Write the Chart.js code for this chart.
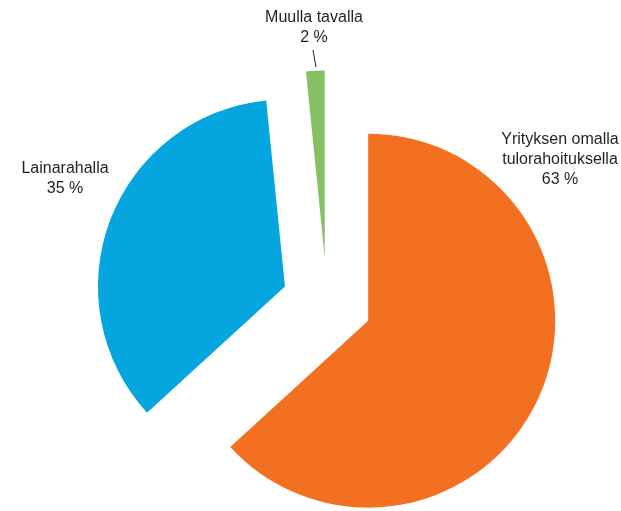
<!DOCTYPE html>
<html>
<head>
<meta charset="utf-8">
<script src="https://cdn.jsdelivr.net/npm/chart.js@4/dist/chart.umd.min.js"></script>
<style>
  html, body { margin: 0; padding: 0; background: #fff; }
  #wrap { width: 621px; height: 511px; position: relative; }
</style>
</head>
<body>
<div id="wrap"><canvas id="pie"></canvas></div>
<script>
// Chart data (shares; labels show them rounded)
const categories = ['Yrityksen omalla tulorahoituksella', 'Lainarahalla', 'Muulla tavalla'];
const shares = [63.2, 35.2, 1.6];
const sliceColors = ['#F37021', '#05A6DF', '#85C162'];

// Label text lines (without the percentage), one entry per slice
const labelLines = [
    ['Yrityksen omalla', 'tulorahoituksella'],
    ['Lainarahalla'],
    ['Muulla tavalla']
];

// Where each label block is centred (first line), plus optional leader line
const labelPlacement = [
    { x: 560, y: 140 },
    { x: 65, y: 169 },
    { x: 314, y: 18, leader: [[313, 50], [316, 67]] }
];

const PIE_RADIUS = 187;
const EXPLODE = 45; // pixels each slice is pulled out from the centre

// Exploded pie: move every slice outward along its middle angle.
// (Chart.js' own "offset" also shrinks and widens the arcs, so do it by hand)
const explodeSlices = {
    id: 'explodeSlices',
    beforeDatasetsDraw(chart) {
        const area = chart.chartArea;
        const cx = (area.left + area.right) / 2;
        const cy = (area.top + area.bottom) / 2;
        chart.getDatasetMeta(0).data.forEach(arc => {
            const mid = (arc.startAngle + arc.endAngle) / 2;
            arc.x = cx + Math.cos(mid) * EXPLODE;
            arc.y = cy + Math.sin(mid) * EXPLODE;
        });
    }
};

// Draw the outside labels
const outsideLabels = {
    id: 'outsideLabels',
    afterDraw(chart) {
        const ctx = chart.ctx;
        ctx.save();
        ctx.font = '16px "Liberation Sans", Arial, sans-serif';
        ctx.fillStyle = '#231F20';
        ctx.textAlign = 'center';
        ctx.textBaseline = 'middle';
        labelLines.forEach((lines, i) => {
            const p = labelPlacement[i];
            const all = lines.concat([Math.round(shares[i]) + ' %']);
            all.forEach((line, j) => {
                ctx.fillText(line, p.x, p.y + j * 20);
            });
            if (p.leader) {
                ctx.strokeStyle = '#231F20';
                ctx.lineWidth = 1;
                ctx.beginPath();
                ctx.moveTo(p.leader[0][0], p.leader[0][1]);
                ctx.lineTo(p.leader[1][0], p.leader[1][1]);
                ctx.stroke();
            }
        });
        ctx.restore();
    }
};

const ctx = document.getElementById('pie').getContext('2d');
new Chart(ctx, {
    type: 'pie',
    data: {
        labels: categories,
        datasets: [{
            data: shares,
            backgroundColor: sliceColors,
            borderWidth: 0
        }]
    },
    options: {
        responsive: true,
        maintainAspectRatio: false,
        animation: false,
        radius: PIE_RADIUS,
        layout: {
            padding: { left: 33, right: 0, top: 94, bottom: 0 }
        },
        plugins: {
            legend: { display: false },
            tooltip: { enabled: false }
        }
    },
    plugins: [explodeSlices, outsideLabels]
});
</script>
</body>
</html>
